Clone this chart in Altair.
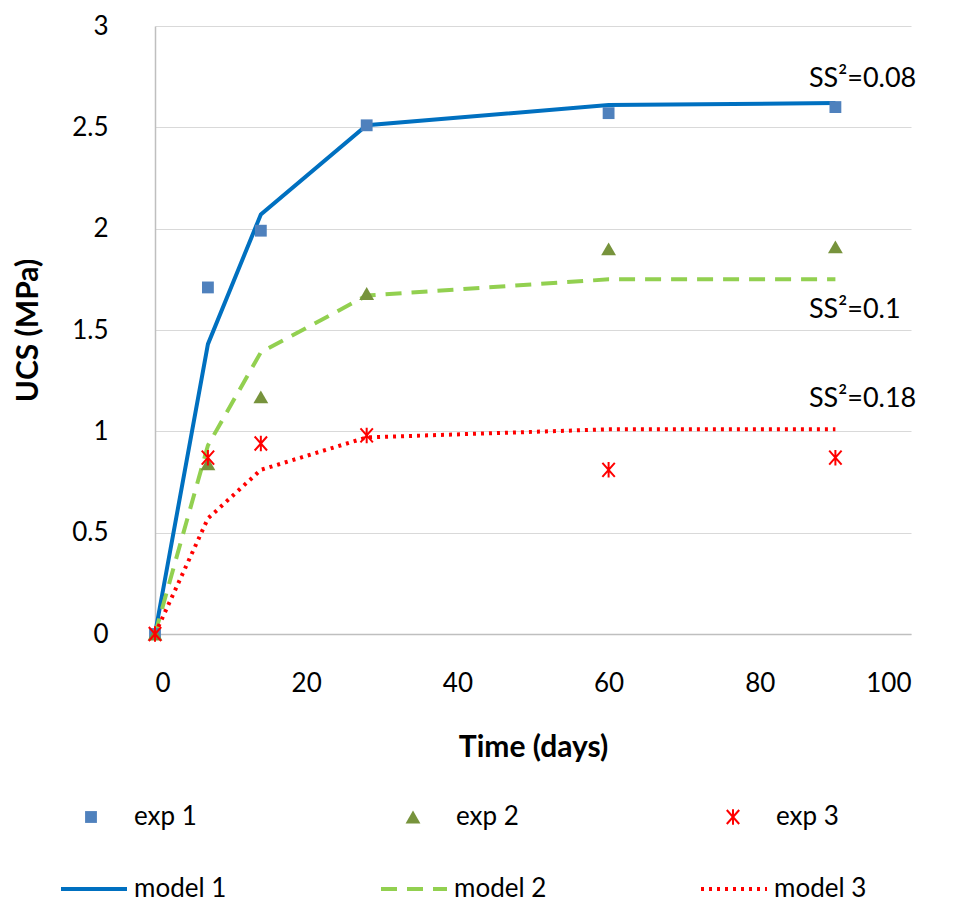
import pandas as pd
import altair as alt

FONT = "Lato"

days = [0, 7, 14, 28, 60, 90]
exp1 = [0, 1.71, 1.99, 2.51, 2.57, 2.60]
exp2 = [0, 0.84, 1.17, 1.68, 1.90, 1.91]
exp3 = [0, 0.87, 0.94, 0.98, 0.81, 0.87]
model1 = [0, 1.43, 2.07, 2.51, 2.61, 2.62]
model2 = [0, 0.93, 1.39, 1.67, 1.75, 1.75]
model3 = [0, 0.57, 0.81, 0.97, 1.01, 1.01]

ss_labels = ["SS²=0.08", "SS²=0.1", "SS²=0.18"]
ss_x = [86.5, 86.5, 86.5]
ss_y = [2.74, 1.60, 1.16]

ASTER = "M-0.8,-0.9L0.8,0.9M-0.8,0.9L0.8,-0.9M0,-1L0,1"

df = pd.DataFrame({"t": days, "exp1": exp1, "exp2": exp2, "exp3": exp3,
                   "model1": model1, "model2": model2, "model3": model3})
ss = pd.DataFrame({"x": ss_x, "y": ss_y, "label": ss_labels})

xs = alt.Scale(domain=[0, 100], nice=False)
ys = alt.Scale(domain=[0, 3], nice=False)
xax = alt.Axis(title="Time (days)", values=[0, 20, 40, 60, 80, 100], grid=False,
               ticks=False, labelPadding=36, titlePadding=36)
yax = alt.Axis(title="UCS (MPa)", values=[0, 0.5, 1, 1.5, 2, 2.5, 3],
               labelExpr="datum.value + ''", ticks=False, labelPadding=47, titlePadding=28)

base = alt.Chart(df)

def line(col, color, dash=None):
    kw = dict(color=color, strokeWidth=4, clip=False)
    if dash:
        kw["strokeDash"] = dash
    return base.mark_line(**kw).encode(
        x=alt.X("t:Q", scale=xs, axis=xax), y=alt.Y(col + ":Q", scale=ys, axis=yax))

def pts(col, shape, color, filled=True, size=150):
    return base.mark_point(shape=shape, filled=filled, color=color, size=size,
                           strokeWidth=2, opacity=1, clip=False).encode(
        x=alt.X("t:Q", scale=xs), y=alt.Y(col + ":Q", scale=ys))

txt = alt.Chart(ss).mark_text(align="left", baseline="middle", fontSize=27,
                              font=FONT, color="black").encode(
    x=alt.X("x:Q", scale=xs), y=alt.Y("y:Q", scale=ys), text="label:N")

main = alt.layer(
    line("model1", "#0070C0"),
    line("model2", "#92D050", [16, 10]),
    line("model3", "#FF0000", [3, 5]),
    pts("exp1", "square", "#4F81BD", size=140),
    pts("exp2", "triangle-up", "#77933C", size=220),
    pts("exp3", ASTER, "#FF0000", filled=False, size=240),
    txt,
).properties(width=756, height=608)

# legend panel (positions measured from the plot's left edge)
leg_names = ["exp 1", "exp 2", "exp 3", "model 1", "model 2", "model 3"]
leg_sym_x = [-64, 258, 578, -94, 226, 546]
leg_row = [55, 55, 55, 127, 127, 127]
leg = pd.DataFrame({"name": leg_names, "x": leg_sym_x, "row": leg_row})
lx = alt.Scale(domain=[0, 756], nice=False)
ly = alt.Scale(domain=[0, 140], reverse=True, nice=False)
lb = alt.Chart(leg)
enc = dict(x=alt.X("x:Q", scale=lx, axis=None), y=alt.Y("row:Q", scale=ly, axis=None))
L = []
for name, shape, color, size, filled in [("exp 1", "square", "#4F81BD", 140, True),
                                         ("exp 2", "triangle-up", "#77933C", 220, True),
                                         ("exp 3", ASTER, "#FF0000", 240, False)]:
    L.append(lb.transform_filter(alt.datum.name == name).mark_point(
        shape=shape, filled=filled, color=color, size=size, opacity=1,
        strokeWidth=2, clip=False).encode(**enc))
for name, color, dash in [("model 1", "#0070C0", None), ("model 2", "#92D050", [16, 10]),
                          ("model 3", "#FF0000", [3, 5])]:
    kw = dict(color=color, strokeWidth=4, clip=False)
    if dash:
        kw["strokeDash"] = dash
    L.append(lb.transform_filter(alt.datum.name == name)
             .transform_calculate(x2="datum.x + 66").mark_rule(**kw).encode(
        x2="x2:Q", **enc))
L.append(lb.transform_calculate(
    tx="datum.row < 90 ? datum.x + 43 : datum.x + 73").mark_text(
    align="left", baseline="middle", fontSize=26, font=FONT, clip=False).encode(
    x=alt.X("tx:Q", scale=lx, axis=None), y=alt.Y("row:Q", scale=ly, axis=None),
    text="name:N"))
legend = alt.layer(*L).properties(width=756, height=140)

chart = alt.vconcat(main, legend, spacing=0).resolve_scale(
    x="independent", y="independent").configure_view(stroke=None).configure_axis(
    labelFont=FONT, titleFont=FONT, labelFontSize=26, titleFontSize=30,
    titleFontWeight="bold", labelColor="black", titleColor="black",
    domainColor="#BFBFBF", gridColor="#D9D9D9", domainWidth=1.5).configure_concat(
    spacing=0).properties(
    padding={"left": 5, "right": 0, "top": 5, "bottom": 0})

chart.save("out.html", embed_options={"renderer": "svg", "actions": False})
